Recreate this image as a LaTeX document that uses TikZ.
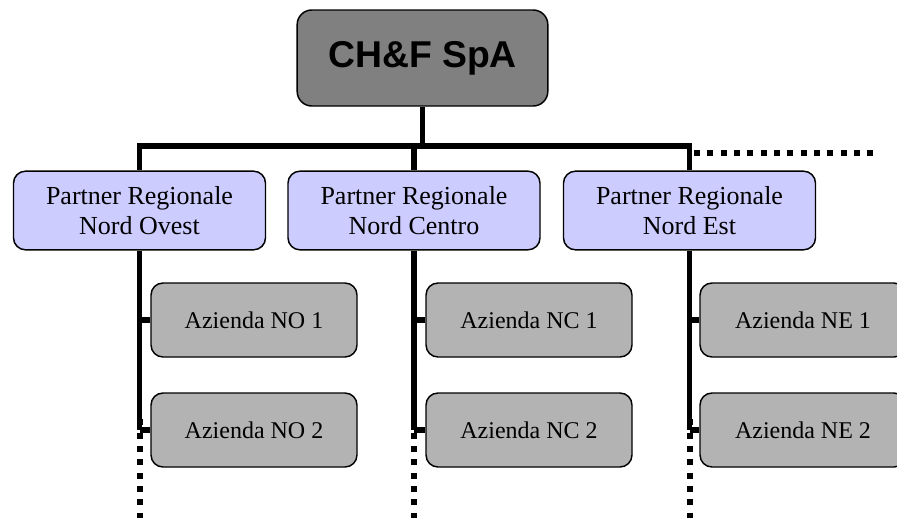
\documentclass[tikz,border=0pt]{standalone}
\usepackage{fontspec}
\setmainfont{Liberation Serif}
\newfontfamily\headfont{Liberation Sans}
\usetikzlibrary{positioning}
\definecolor{headgray}{RGB}{128,128,128}
\definecolor{partnerblue}{RGB}{204,204,255}
\definecolor{firmgray}{RGB}{179,179,179}
\begin{document}
\begin{tikzpicture}[x=0.75pt,y=0.75pt,yscale=-1,xscale=1,
  headbox/.style={draw=black,line width=1.1pt,fill=headgray,rounded corners=11pt,
    minimum width=188pt,minimum height=72pt,inner sep=0pt,
    font=\headfont\bfseries\fontsize{28}{32}\selectfont},
  partnerbox/.style={draw=black,line width=1.1pt,fill=partnerblue,rounded corners=9pt,
    minimum width=189pt,minimum height=59pt,inner sep=0pt,align=center,
    font=\fontsize{19.5}{22.5}\selectfont},
  firmbox/.style={draw=black,line width=1.1pt,fill=firmgray,rounded corners=9pt,
    minimum width=154.5pt,minimum height=55.5pt,inner sep=0pt,
    font=\fontsize{18}{21}\selectfont},
  trunk/.style={line width=4.1pt},
  dots/.style={line width=4.5pt,dash pattern={on 4.5pt off 5.5pt}}]
\useasboundingbox (0,0) rectangle (897,518);
\clip (0,0) rectangle (897,518);

% Coordinates of the bus line
\coordinate (busL) at (139.5,146);
\coordinate (busR) at (689.5,146);
\coordinate (dotA) at (694,152.5);
\coordinate (dotB) at (875,152.5);

% Head node
\node [headbox] (head) at (422.5,58) {CH\&F SpA};

% Partner nodes
\node [partnerbox] (no) at (139.5,210.5) {Partner Regionale\\Nord Ovest};
\node [partnerbox] (nc) at (414,210.5) {Partner Regionale\\Nord Centro};
\node [partnerbox] (ne) at (689.5,210.5) {Partner Regionale\\Nord Est};

% Firm nodes
\node [firmbox] (no1) at (254,320) {Azienda NO 1};
\node [firmbox] (no2) at (254,430) {Azienda NO 2};
\node [firmbox] (nc1) at (529,320) {Azienda NC 1};
\node [firmbox] (nc2) at (529,430) {Azienda NC 2};
\node [firmbox] (ne1) at (803,320) {Azienda NE 1};
\node [firmbox] (ne2) at (803,430) {Azienda NE 2};

% Bus and trunks
\draw [trunk] (head.south) -- (head.south |- busL) ;
\draw [trunk] (no.north) -- (busL) -- (busR) -- (ne.north) ;
\draw [trunk] (nc.north |- busL) -- (nc.north) ;
\draw [dots] (dotA) -- (dotB) ;

% Branches to the firms
\foreach \p/\a/\b in {no/no1/no2,nc/nc1/nc2,ne/ne1/ne2}{
  \draw [trunk] (\p.south) -- (\p.south |- \b.west) ;
  \draw [trunk] (\p.south |- \a.west) -- (\a.west) ;
  \draw [trunk] (\p.south |- \b.west) -- (\b.west) ;
  \draw [dots] ([yshift=-8]\p.south |- \b.west) -- (\p.south |- 0,530) ;
}

\end{tikzpicture}
\end{document}
